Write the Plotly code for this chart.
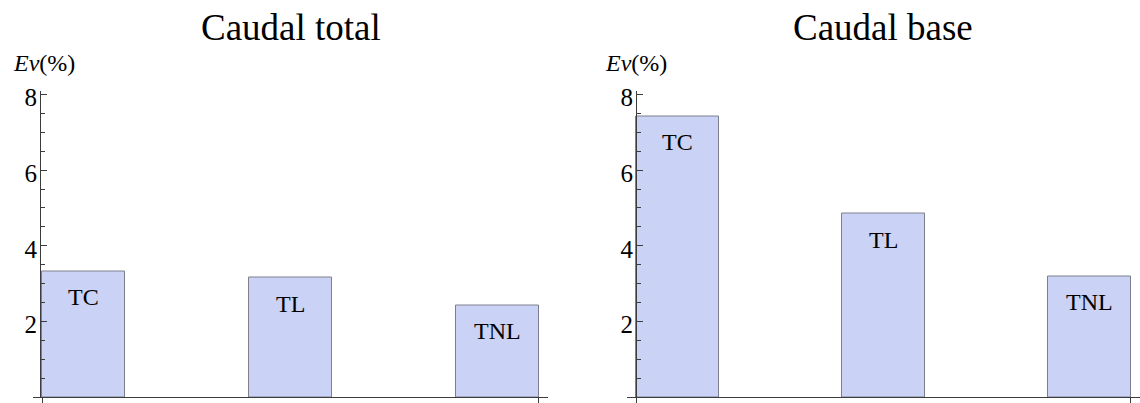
import plotly.graph_objects as go

W, H = 1140, 403

categories = ["TC", "TL", "TNL"]
total_values = [3.32, 3.15, 2.43]
base_values = [7.42, 4.84, 3.19]
titles = ["Caudal total", "Caudal base"]
ytick_vals = [2, 4, 6, 8]
ytick_text = ["2", "4", "6", "8"]

FONT = "Liberation Serif, Times New Roman, serif"
BAR_FILL = "rgb(202,210,245)"
BAR_LINE = "rgb(125,128,140)"
AXIS_COLOR = "rgb(60,60,60)"

def px(x):
    return x / W

def py(y):
    return (H - y) / H

fig = go.Figure()

panels = [
    dict(vals=total_values, title_x=291, evx=43.5, sfx=""),
    dict(vals=base_values, title_x=883, evx=635.5, sfx="2"),
]

annotations = []
for i, p in enumerate(panels):
    sfx = p["sfx"]
    xa = "x" + sfx
    ya = "y" + sfx
    fig.add_trace(go.Bar(
        x=[0, 1, 2], y=p["vals"], width=0.4,
        marker=dict(color=BAR_FILL, line=dict(color=BAR_LINE, width=1)),
        xaxis=xa, yaxis=ya, showlegend=False, hoverinfo="skip",
    ))
    for j, (c, v) in enumerate(zip(categories, p["vals"])):
        annotations.append(dict(
            x=j, y=v, xref=xa, yref=ya, text=c, showarrow=False,
            yanchor="middle", xanchor="center", yshift=-26,
            font=dict(family=FONT, size=24, color="black"),
        ))
    annotations.append(dict(
        x=px(p["title_x"]), y=py(22), xref="paper", yref="paper",
        text=titles[i], showarrow=False, xanchor="center", yanchor="middle",
        font=dict(family=FONT, size=37, color="black"),
    ))
    annotations.append(dict(
        x=px(p["evx"]), y=py(58), xref="paper", yref="paper",
        text="<i>Ev</i>(%)", showarrow=False, xanchor="center", yanchor="middle",
        font=dict(family=FONT, size=24, color="black"),
    ))

xaxis_common = dict(
    range=[-0.244, 2.244], showgrid=False, zeroline=False,
    showline=True, linecolor=AXIS_COLOR, linewidth=1,
    tickmode="array", tickvals=[-0.2, 2.2], ticks="outside", ticklen=6,
    tickcolor=AXIS_COLOR, showticklabels=False, fixedrange=True,
)
yaxis_common = dict(
    range=[0, 8.104], domain=[py(398), py(86)], showgrid=False, zeroline=False,
    showline=True, linecolor=AXIS_COLOR, linewidth=1,
    tickmode="array", tickvals=ytick_vals, ticktext=ytick_text,
    ticks="inside", ticklen=6, tickcolor=AXIS_COLOR,
    tickfont=dict(family=FONT, size=25, color="black"),
    ticklabelshift=3, ticklabelstandoff=-2,
    minor=dict(tickmode="linear", tick0=0, dtick=0.5, ticks="inside",
               ticklen=4, tickcolor=AXIS_COLOR),
    anchor="free", side="left", fixedrange=True,
)

fig.update_layout(
    width=W, height=H,
    margin=dict(l=0, r=0, t=0, b=0),
    paper_bgcolor="white", plot_bgcolor="rgba(0,0,0,0)",
    xaxis=dict(xaxis_common, domain=[px(33), px(548)], anchor="y"),
    yaxis=dict(yaxis_common, position=px(40)),
    xaxis2=dict(xaxis_common, domain=[px(627), px(1140)], anchor="y2"),
    yaxis2=dict(yaxis_common, position=px(636)),
    annotations=annotations,
    bargap=0,
)

fig.write_html(
    "out.html",
    config={"displayModeBar": False},
    post_script="document.body.style.margin='0';document.body.style.padding='0';"
                "document.body.style.overflow='hidden';",
)
